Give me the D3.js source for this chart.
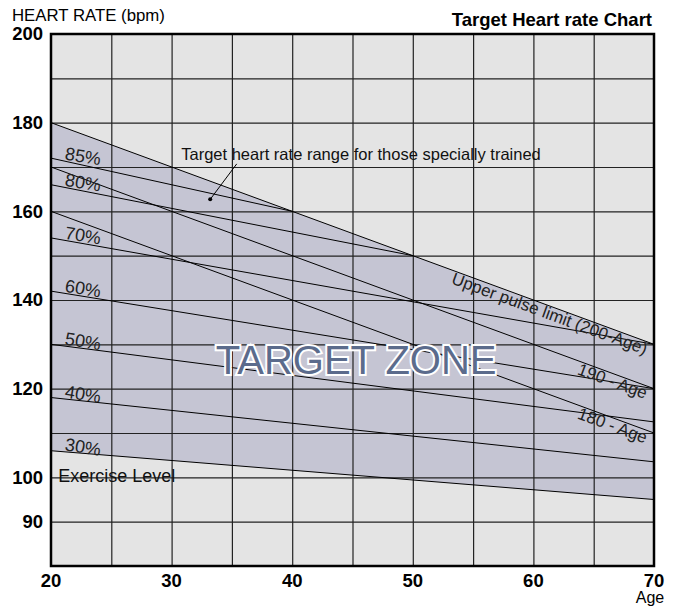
<!DOCTYPE html>
<html>
<head>
<meta charset="utf-8">
<script src="https://cdn.jsdelivr.net/npm/d3@7"></script>
<style>
  body { margin: 0; background: #fff; }
  text { font-family: "Liberation Sans", Arial, sans-serif; }
</style>
</head>
<body>
<div id="chart"></div>
<script>
// values
const limitAges = [20, 70];
const upper200 = [180, 130];
const upper190 = [170, 120];
const upper180 = [160, 110];

const pctLabels = ["85%", "80%", "70%", "60%", "50%", "40%", "30%"];
const pctEndAge = [40, 50, 70, 70, 70, 70, 70];
const pctStart = [172, 166, 154, 142, 130, 118, 106];
const pctEnd = [160, 150, 130, 120, 112.5, 103.5, 95];

const xTicks = [20, 30, 40, 50, 60, 70];
const yTicks = [200, 180, 160, 140, 120, 100, 90];

var margin = { top: 34, right: 22, bottom: 42, left: 51 },
  width = 676 - margin.left - margin.right,
  height = 608 - margin.top - margin.bottom;

var x = d3.scaleLinear().domain([20, 70]).range([0, width]);
var y = d3.scaleLinear().domain([80, 200]).range([height, 0]);

var svg = d3.select('#chart')
  .append('svg')
  .attr('width', 676)
  .attr('height', 608)
  .append('g')
  .attr('transform', `translate(${margin.left},${margin.top})`);

// plot background
svg.append('rect')
  .attr('width', width)
  .attr('height', height)
  .style('fill', '#e4e4e4');

// target zone, between the upper limit and the 30% line
var lowest = pctLabels.length - 1;
var zone = [
  { age: limitAges[0], lo: pctStart[lowest], hi: upper200[0] },
  { age: limitAges[1], lo: pctEnd[lowest], hi: upper200[1] }
];
svg.append('path')
  .attr('d', d3.area().x(d => x(d.age)).y0(d => y(d.lo)).y1(d => y(d.hi))(zone))
  .style('fill', '#c5c5d3');

// grid
svg.append('g')
  .call(d3.axisBottom(x).tickValues(d3.range(25, 70, 5)).tickSize(height).tickFormat(''))
  .call(g => g.select('.domain').remove())
  .selectAll('line').style('stroke', '#222').style('stroke-width', 1.2);
svg.append('g')
  .call(d3.axisLeft(y).tickValues(d3.range(90, 200, 10)).tickSize(-width).tickFormat(''))
  .call(g => g.select('.domain').remove())
  .selectAll('line').style('stroke', '#222').style('stroke-width', 1.2);

// lines
var line = d3.line().x(d => x(d[0])).y(d => y(d[1]));
[upper200, upper190, upper180].forEach(v => {
  svg.append('path')
    .attr('d', line(limitAges.map((a, i) => [a, v[i]])))
    .style('stroke', '#000').style('fill', 'none').style('stroke-width', 1);
});
pctLabels.forEach((lab, i) => {
  svg.append('path')
    .attr('d', line([[20, pctStart[i]], [pctEndAge[i], pctEnd[i]]]))
    .style('stroke', '#000').style('fill', 'none').style('stroke-width', 1);
  var a0 = 21.1;
  var v0 = pctStart[i] + (pctEnd[i] - pctStart[i]) * (a0 - 20) / (pctEndAge[i] - 20);
  svg.append('text')
    .attr('transform', `translate(${x(a0)},${y(v0) - 1.5}) rotate(9)`)
    .style('font-size', '18px')
    .style('fill', '#222')
    .text(lab);
});

// labels along the limit lines
var angle = Math.atan2(y(upper200[1]) - y(upper200[0]), x(70) - x(20)) * 180 / Math.PI;
[[upper200, "Upper pulse limit (200-Age)"], [upper190, "190 - Age"], [upper180, "180 - Age"]].forEach(d => {
  var a = 69.6;
  var v = d[0][0] + (d[0][1] - d[0][0]) * (a - 20) / 50;
  svg.append('text')
    .attr('transform', `translate(${x(a)},${y(v)}) rotate(${angle})`)
    .attr('dy', 13)
    .attr('text-anchor', 'end')
    .style('font-size', '17px')
    .style('fill', '#222')
    .text(d[1]);
});

// TARGET ZONE
svg.append('text')
  .attr('x', x(45.3))
  .attr('y', y(123.4))
  .attr('text-anchor', 'middle')
  .style('font-size', '40px')
  .style('fill', '#5b6b8c')
  .style('stroke', '#fff')
  .style('stroke-width', 4)
  .style('paint-order', 'stroke')
  .text('TARGET ZONE');

// annotation for specially trained range
svg.append('text')
  .attr('x', x(30.8))
  .attr('y', y(171.6))
  .style('font-size', '16.5px')
  .style('fill', '#111')
  .text('Target heart rate range for those specially trained');
svg.append('line')
  .attr('x1', x(35.4)).attr('y1', y(170.7))
  .attr('x2', x(33.2)).attr('y2', y(162.7))
  .style('stroke', '#000').style('stroke-width', 1);
svg.append('circle')
  .attr('cx', x(33.2)).attr('cy', y(162.7)).attr('r', 2)
  .style('fill', '#000');

svg.append('text')
  .attr('x', x(20.6))
  .attr('y', y(99))
  .style('font-size', '18px')
  .style('fill', '#111')
  .text('Exercise Level');

// frame
svg.append('rect')
  .attr('width', width)
  .attr('height', height)
  .style('fill', 'none')
  .style('stroke', '#000')
  .style('stroke-width', 2.5);

// axes labels
svg.selectAll('.ylab').data(yTicks).enter().append('text')
  .attr('class', 'ylab')
  .attr('x', -8)
  .attr('y', d => y(d))
  .attr('dy', '0.35em')
  .attr('text-anchor', 'end')
  .style('font-size', '18.5px')
  .style('font-weight', 'bold')
  .text(d => d);
svg.selectAll('.xlab').data(xTicks).enter().append('text')
  .attr('class', 'xlab')
  .attr('x', d => x(d))
  .attr('y', height + 21)
  .attr('text-anchor', 'middle')
  .style('font-size', '18.5px')
  .style('font-weight', 'bold')
  .text(d => d);

svg.append('text')
  .attr('x', x(70) - 4)
  .attr('y', height + 37)
  .attr('text-anchor', 'middle')
  .style('font-size', '16px')
  .text('Age');

svg.append('text')
  .attr('x', -39)
  .attr('y', -13)
  .style('font-size', '16.8px')
  .text('HEART RATE (bpm)');

svg.append('text')
  .attr('x', width - 2)
  .attr('y', -8)
  .attr('text-anchor', 'end')
  .style('font-size', '18.5px')
  .style('font-weight', 'bold')
  .text('Target Heart rate Chart');
</script>
</body>
</html>
